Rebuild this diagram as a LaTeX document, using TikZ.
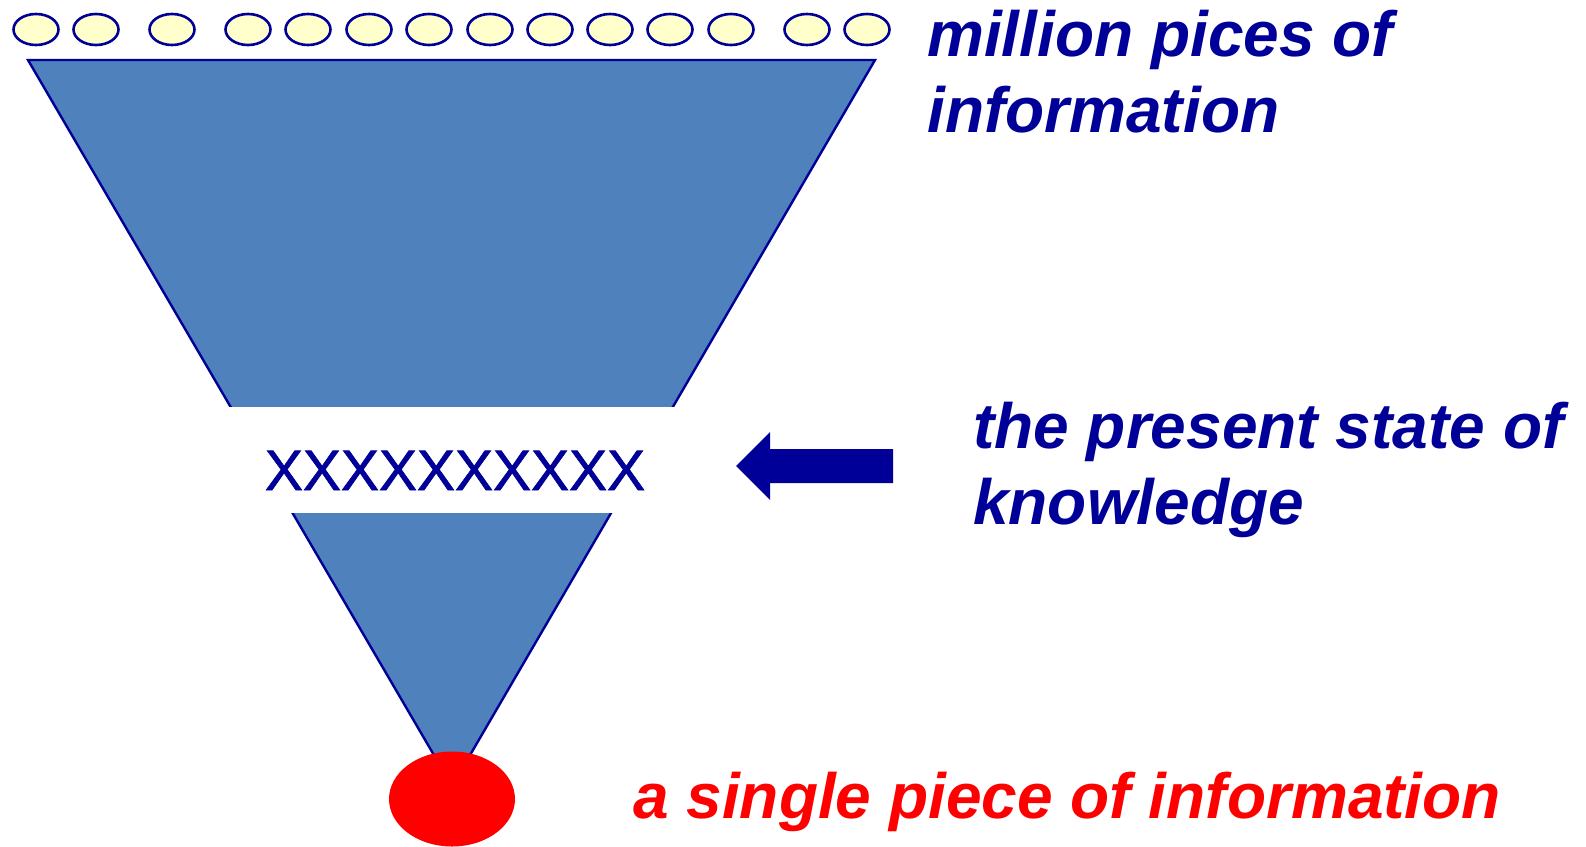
\documentclass[tikz,border=0pt]{standalone}
\usepackage{fontspec}
\setmainfont{Liberation Sans}
\newfontfamily\heavysans[FakeBold=1.2]{Liberation Sans}
\usetikzlibrary{shapes.geometric}

\definecolor{navy}{HTML}{000099}
\definecolor{funnelblue}{HTML}{4F81BD}
\definecolor{paleyellow}{HTML}{FFFFCC}
\definecolor{brightred}{HTML}{FF0000}

\tikzset{
  piece/.style={ellipse, draw=navy, line width=2.6pt, fill=paleyellow,
    minimum width=45pt, minimum height=31pt, inner sep=0pt},
  funnel/.style={fill=funnelblue, draw=navy, line width=2.4pt, line join=miter},
  caption/.style={inner sep=0pt, align=left, text=navy,
    font=\fontsize{64}{76}\selectfont\bfseries\itshape},
}

\begin{document}
\begin{tikzpicture}[x=1pt, y=-1pt]
  \useasboundingbox (0,0) rectangle (1586,846);

  % row of small pieces of information
  \foreach \i/\x in {1/36, 2/96, 3/172, 4/248, 5/308, 6/369, 7/429,
                     8/490, 9/550, 10/610, 11/670, 12/731, 13/807, 14/867}
    \node[piece] (p\i) at (\x,29.5) {};

  % the funnel, cut by a white band
  \coordinate (ftl) at (28,60);
  \coordinate (ftr) at (875,60);
  \coordinate (fap) at (452,786);
  \path[funnel] (ftl) -- (ftr) -- (fap) -- cycle;
  \fill[white] (180,407) rectangle (715,513);

  % present state of knowledge
  \node[inner sep=0pt, anchor=base, text=navy,
        font=\heavysans\fontsize{57}{57}\selectfont] (xs) at (455,490) {XXXXXXXXXX};

  % single piece of information at the outlet
  \node[ellipse, fill=brightred, minimum width=126pt, minimum height=95pt,
        inner sep=0pt] (single) at (452,799) {};

  % arrow pointing at the band
  \coordinate (atip) at (736,466);
  \fill[navy] (atip) -- (770,432) -- (770,449) -- (893,449)
              -- (893,483) -- (770,483) -- (770,500) -- cycle;

  % captions (base anchor sits on the last line)
  \node[caption, anchor=base west] (million) at (927,132)
    {million pices of\\information};
  \node[caption, anchor=base west] (state) at (973,524)
    {the present state of\\knowledge};
  \node[caption, anchor=base west, text=brightred] (onepiece) at (633,818)
    {a single piece of information};
\end{tikzpicture}
\end{document}
